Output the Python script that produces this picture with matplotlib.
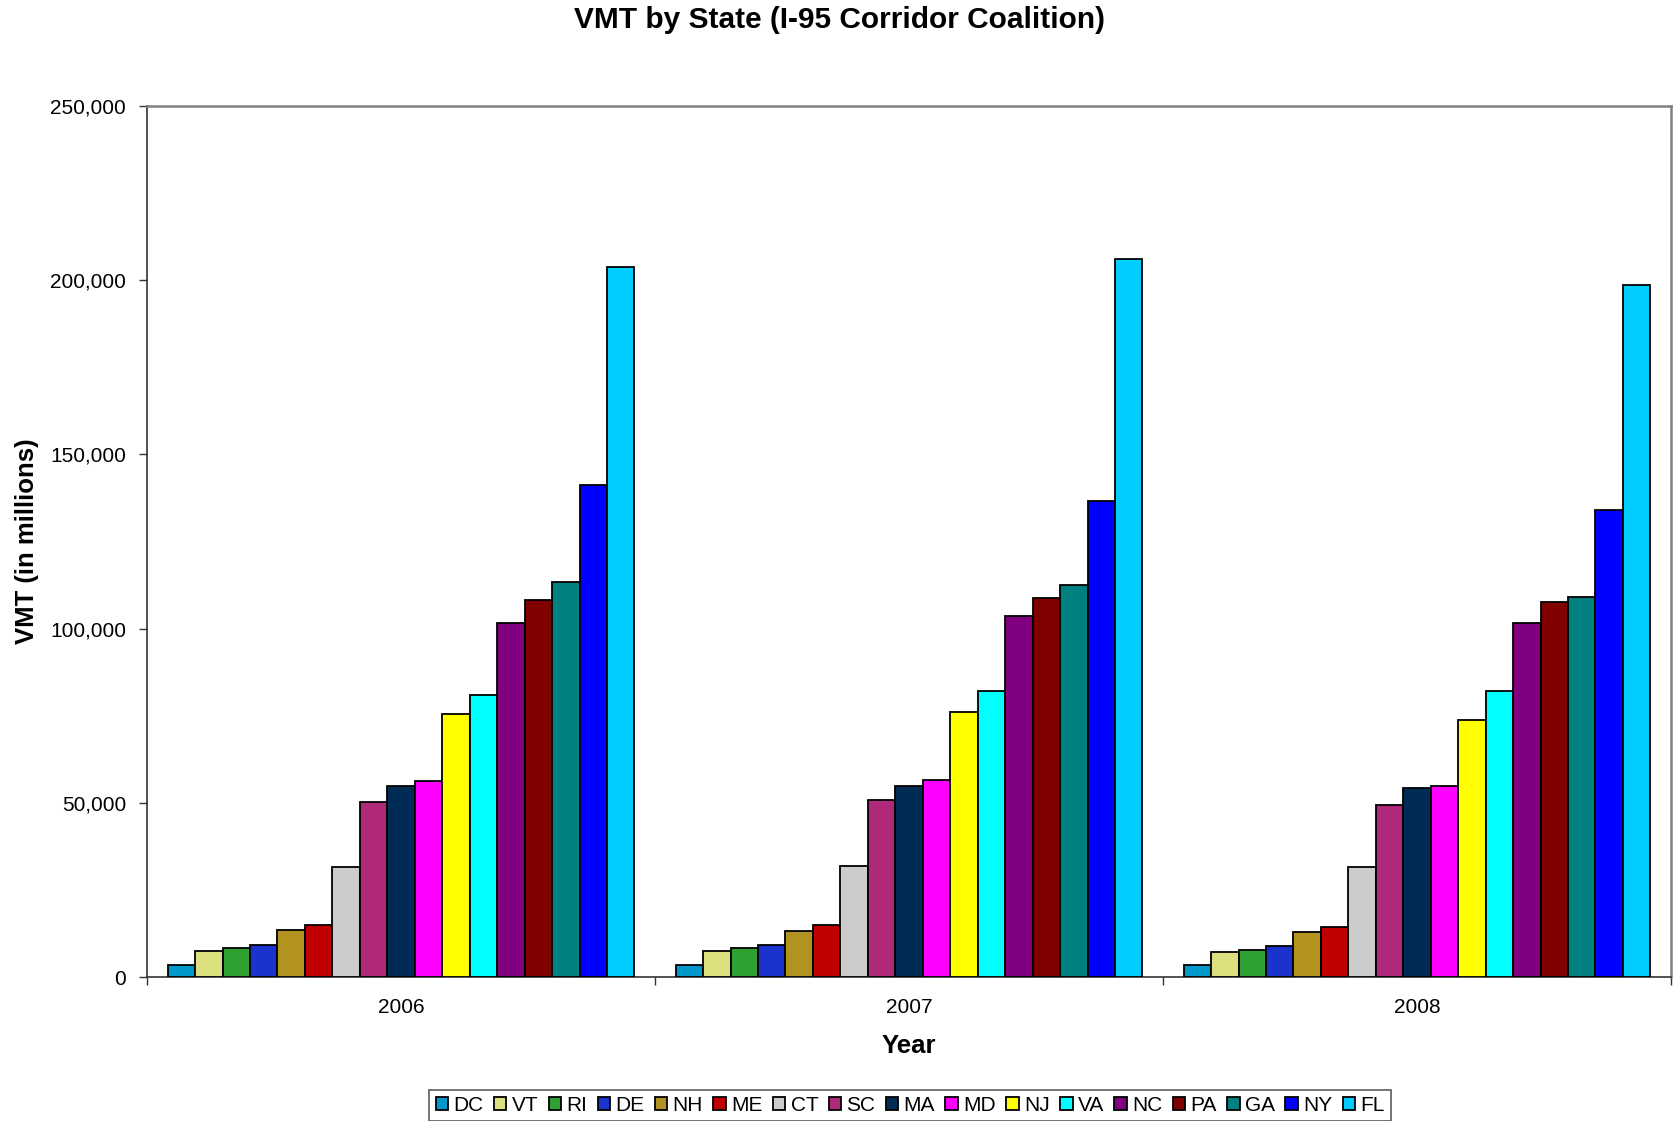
import numpy as np
import matplotlib
matplotlib.use("Agg")
import matplotlib.pyplot as plt
from matplotlib.ticker import FuncFormatter, FixedLocator
from matplotlib.patches import Patch

plt.rcParams['font.family'] = ['Liberation Sans', 'DejaVu Sans']

years = ["2006", "2007", "2008"]
states = ["DC", "VT", "RI", "DE", "NH", "ME", "CT", "SC", "MA", "MD",
          "NJ", "VA", "NC", "PA", "GA", "NY", "FL"]

# VMT in millions, one list per state: [2006, 2007, 2008]
DC = [3600, 3600, 3500]
VT = [7700, 7600, 7200]
RI = [8300, 8500, 8000]
DE = [9400, 9400, 8900]
NH = [13600, 13300, 12900]
ME = [14900, 14900, 14500]
CT = [31700, 31900, 31600]
SC = [50200, 51000, 49500]
MA = [55000, 55000, 54400]
MD = [56300, 56500, 55000]
NJ = [75400, 76200, 73700]
VA = [81000, 82000, 82200]
NC = [101600, 103600, 101700]
PA = [108300, 108700, 107800]
GA = [113400, 112500, 109000]
NY = [141300, 136700, 134100]
FL = [203700, 206100, 198600]

values = [DC, VT, RI, DE, NH, ME, CT, SC, MA, MD, NJ, VA, NC, PA, GA, NY, FL]

colors = ["#0099CC", "#DDE07E", "#2FA032", "#1A33CC", "#B39320", "#C00000",
          "#CCCCCC", "#B0287A", "#002B55", "#FF00FF", "#FFFF00", "#00FFFF",
          "#800080", "#800000", "#008080", "#0000FF", "#00CCFF"]

fig = plt.figure(figsize=(16.73, 11.21), dpi=100)
ax = fig.add_axes([0.0879, 0.1281, 0.9109, 0.7776])

n = len(states)
width = 1.0 / (n + 1.5)
x = np.arange(len(years))
for i, (name, vals, col) in enumerate(zip(states, values, colors)):
    ax.bar(x + (i - (n - 1) / 2) * width, vals, width=width, color=col,
           edgecolor="black", linewidth=1.3, label=name, zorder=3)

ax.set_xlim(-0.5, 2.5)
ax.set_ylim(0, 250000)
ax.set_yticks(np.arange(0, 250001, 50000))
ax.yaxis.set_major_formatter(FuncFormatter(lambda v, p: f"{int(v):,}"))
ax.set_xticks(x)
ax.set_xticklabels(years)
ax.xaxis.set_minor_locator(FixedLocator([-0.5, 0.5, 1.5, 2.5]))
ax.tick_params(axis="x", which="major", length=0, pad=15, labelsize=15)
ax.tick_params(axis="x", which="minor", length=6, width=1, color="#333333")
ax.tick_params(axis="y", length=6, width=1, color="#333333", labelsize=15, pad=9)

for side in ("left", "bottom"):
    ax.spines[side].set_color("#333333")
    ax.spines[side].set_linewidth(1.2)
for side in ("top", "right"):
    ax.spines[side].set_color("#808080")
    ax.spines[side].set_linewidth(1.8)

ax.set_xlabel("Year", fontsize=18.5, fontweight="bold", labelpad=12)
ax.set_ylabel("VMT (in millions)", fontsize=18.5, fontweight="bold", va="center")
ax.yaxis.set_label_coords(-0.079, 0.5)
fig.text(0.502, 0.982, "VMT by State (I-95 Corridor Coalition)", ha="center",
         va="center", fontsize=21.5, fontweight="bold")

handles = [Patch(facecolor=c, edgecolor="black", linewidth=1.3) for c in colors]
leg = fig.legend(handles, states, loc="lower center", bbox_to_anchor=(0.544, 0.0),
                 ncol=n, fontsize=15, frameon=True, fancybox=False,
                 handlelength=0.6, handleheight=0.6, handletextpad=0.25,
                 columnspacing=0.5, borderpad=0.3, borderaxespad=0.0)
leg.get_frame().set_edgecolor("#333333")
leg.get_frame().set_linewidth(1.2)

fig.savefig("out.png", dpi=100)
